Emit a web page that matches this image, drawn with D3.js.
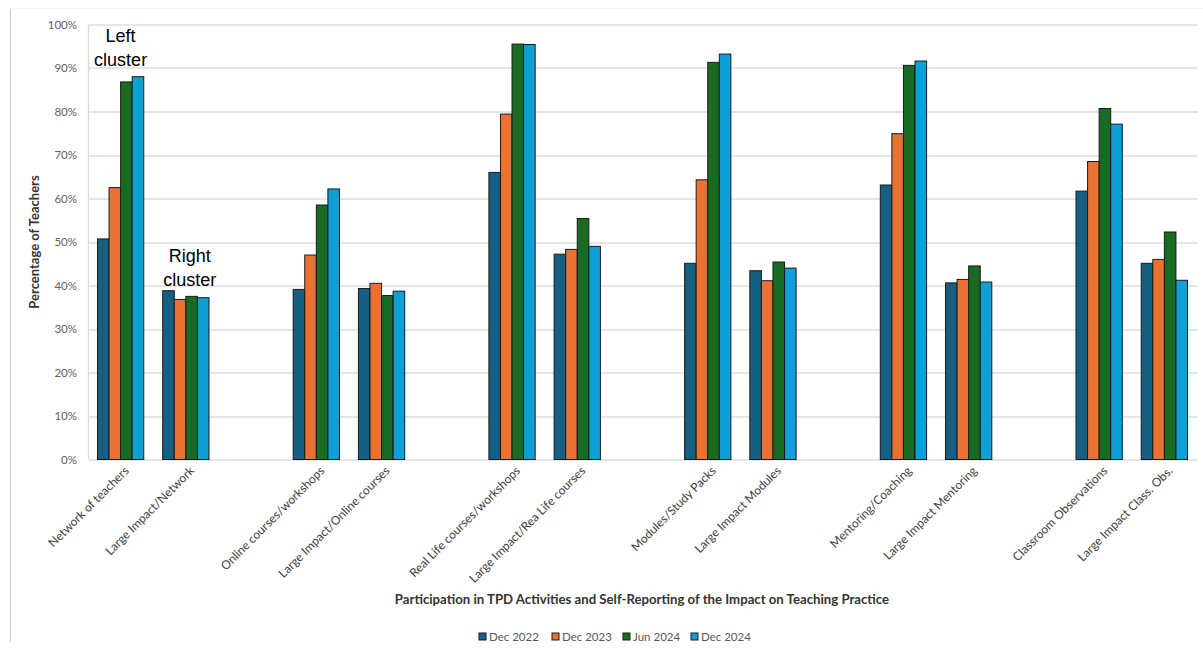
<!DOCTYPE html>
<html>
<head>
<meta charset="utf-8">
<script src="https://cdn.jsdelivr.net/npm/d3@7"></script>
<style>
  html, body { margin: 0; padding: 0; background: #fff; }
  svg { display: block; }
</style>
</head>
<body>
<svg id="chart" width="1203" height="648"></svg>
<script>
// Participation in TPD activities and self-reported large impact, by survey wave
const categories = [
  "Network of teachers", "Large Impact/Network",
  "Online courses/workshops", "Large Impact/Online courses",
  "Real Life courses/workshops", "Large Impact/Rea Life courses",
  "Modules/Study Packs", "Large Impact Modules",
  "Mentoring/Coaching", "Large Impact Mentoring",
  "Classroom Observations", "Large Impact Class. Obs."
];
const seriesNames = ["Dec 2022", "Dec 2023", "Jun 2024", "Dec 2024"];
const dec2022 = [50.7, 38.8, 39.1, 39.3, 66.0, 47.2, 45.1, 43.4, 63.1, 40.6, 61.7, 45.1];
const dec2023 = [62.5, 36.8, 47.0, 40.5, 79.4, 48.3, 64.3, 41.1, 74.9, 41.4, 68.5, 46.0];
const jun2024 = [86.8, 37.5, 58.5, 37.7, 95.5, 55.4, 91.3, 45.4, 90.6, 44.5, 80.7, 52.3];
const dec2024 = [88.0, 37.2, 62.2, 38.7, 95.4, 49.0, 93.2, 44.0, 91.6, 40.8, 77.1, 41.2];
const yTicks = [0, 10, 20, 30, 40, 50, 60, 70, 80, 90, 100];
const seriesColors = ["#156082", "#E97132", "#196B24", "#0F9ED5"];

const seriesValues = [dec2022, dec2023, jun2024, dec2024];

const svg = d3.select("#chart");
const W = 1203, H = 648;
const margin = { left: 89, right: 5, top: 24.5, bottom: 188.5 };
const plotW = W - margin.left - margin.right;
const plotH = H - margin.top - margin.bottom;
const font = "Lato, 'Open Sans', sans-serif";

// Outer border lines of the chart area
svg.append("line").attr("x1", 10.5).attr("x2", 10.5).attr("y1", 8).attr("y2", 642)
  .attr("stroke", "#c8c8c8").attr("stroke-width", 1);
svg.append("line").attr("x1", 10).attr("x2", 1203).attr("y1", 8.5).attr("y2", 8.5)
  .attr("stroke", "#f4f4f4").attr("stroke-width", 1);

const g = svg.append("g").attr("transform", `translate(${margin.left},${margin.top})`);

// Activities come in pairs separated by an empty slot: slot = i + floor(i/2)
const nSlots = categories.length + categories.length / 2 - 1;
const slotOf = i => i + Math.floor(i / 2);
const x = d3.scaleBand().domain(d3.range(nSlots)).range([0, plotW]).paddingInner(0).paddingOuter(0);
const innerPad = x.bandwidth() * 0.13;
const x1 = d3.scaleBand().domain(d3.range(seriesNames.length))
  .range([innerPad, x.bandwidth() - innerPad - 2]).padding(0);
const y = d3.scaleLinear().domain([0, 100]).range([plotH, 0]);

// Horizontal gridlines
g.append("g").selectAll("line").data(yTicks).join("line")
  .attr("x1", 0).attr("x2", plotW)
  .attr("y1", d => Math.round(y(d)) + 0.5).attr("y2", d => Math.round(y(d)) + 0.5)
  .attr("stroke", "#dcdcdc").attr("stroke-width", 1.3);

// Value axis line
g.append("line").attr("x1", -0.5).attr("x2", -0.5).attr("y1", y(100)).attr("y2", y(0))
  .attr("stroke", "#d9d9d9").attr("stroke-width", 1.3);

// Y axis tick labels
const yAxis = d3.axisLeft(y).tickValues(yTicks).tickFormat(d => d + "%").tickSize(0).tickPadding(12);
const yg = g.append("g").call(yAxis);
yg.select(".domain").remove();
yg.selectAll("text").attr("font-family", font)
  .attr("font-size", 11.5).attr("fill", "#606060");

// Bars
const groups = g.append("g").selectAll("g").data(categories).join("g")
  .attr("transform", (d, i) => `translate(${x(slotOf(i))},0)`);
groups.selectAll("rect").data((d, i) => seriesValues.map((vals, s) => ({ s, v: vals[i] })))
  .join("rect")
  .attr("x", d => x1(d.s))
  .attr("width", x1.bandwidth())
  .attr("y", d => y(d.v))
  .attr("height", d => y(0) - y(d.v))
  .attr("fill", d => seriesColors[d.s])
  .attr("stroke", "#1a1a1a").attr("stroke-width", 1);

// Category labels, rotated 45 degrees
g.append("g").selectAll("text").data(categories).join("text")
  .attr("transform", (d, i) => `translate(${x(slotOf(i)) + x.bandwidth() / 2 + 5},${plotH + 9}) rotate(-45)`)
  .attr("text-anchor", "end")
  .attr("dy", "0.35em")
  .attr("font-family", font)
  .attr("font-size", 12).attr("fill", "#404040")
  .text(d => d);

// Axis titles
svg.append("text")
  .attr("transform", `translate(39,${margin.top + plotH / 2}) rotate(-90)`)
  .attr("text-anchor", "middle")
  .attr("font-family", font)
  .attr("font-size", 13).attr("font-weight", "bold").attr("fill", "#333")
  .text("Percentage of Teachers");

svg.append("text")
  .attr("x", 642).attr("y", 604)
  .attr("text-anchor", "middle")
  .attr("font-family", font)
  .attr("font-size", 13.2).attr("font-weight", "bold").attr("fill", "#333")
  .text("Participation  in TPD Activities and Self-Reporting of the Impact on Teaching Practice");

// Legend
const legendX = [479, 552, 623, 691];
const legend = svg.append("g").selectAll("g").data(seriesNames).join("g")
  .attr("transform", (d, i) => `translate(${legendX[i]},633)`);
legend.append("rect").attr("width", 7).attr("height", 7)
  .attr("fill", (d, i) => seriesColors[i]).attr("stroke", "#1a1a1a").attr("stroke-width", 1);
legend.append("text").attr("x", 10).attr("y", 7.5)
  .attr("font-family", font)
  .attr("font-size", 11.5).attr("fill", "#595959")
  .text(d => d);

// Cluster annotations
const notes = [
  { lines: ["Left", "cluster"], i: 0, top: 42, dx: -1 },
  { lines: ["Right", "cluster"], i: 1, top: 262, dx: 3 }
];
notes.forEach(n => {
  const t = svg.append("text")
    .attr("text-anchor", "middle")
    .attr("font-family", "'Liberation Sans', Arial, sans-serif")
    .attr("font-size", 18).attr("fill", "#000");
  n.lines.forEach((ln, k) => {
    t.append("tspan")
      .attr("x", margin.left + x(slotOf(n.i)) + x.bandwidth() / 2 + n.dx)
      .attr("y", n.top + k * 24)
      .text(ln);
  });
});
</script>
</body>
</html>
